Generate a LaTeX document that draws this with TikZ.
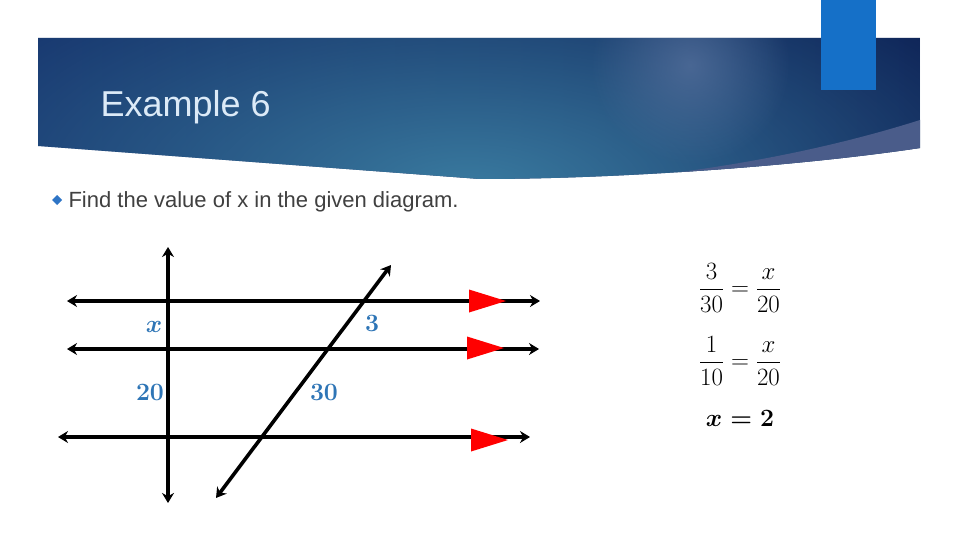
\documentclass[tikz,border=0pt]{standalone}
\usepackage{amsmath}
\usepackage[no-math]{fontspec}
\setmainfont{Liberation Sans}
\usepackage{tikz}
\usetikzlibrary{arrows.meta}
\usetikzlibrary{fadings}
\usepackage{xcolor}
\definecolor{navyleft}{HTML}{14306A}
\definecolor{navyright}{HTML}{0A1B50}
\definecolor{bannerlight}{HTML}{3A7BA0}
\definecolor{spotblue}{HTML}{5A74A0}
\definecolor{wedgeblue}{HTML}{4A5C8A}
\definecolor{tabblue}{HTML}{1570C8}
\definecolor{titletext}{HTML}{DCEAF7}
\definecolor{bodygray}{HTML}{404040}
\definecolor{bulletblue}{HTML}{2E75C6}
\definecolor{labelblue}{HTML}{2E75B6}
\tikzfading[name=glow, inner color=transparent!0, outer color=transparent!100]

\begin{document}
\begin{tikzpicture}[x=1pt,y=-1pt,
  ln/.style={line width=3.6pt,{Stealth[length=10pt,width=12pt]}-{Stealth[length=10pt,width=12pt]}},
  lbl/.style={text=labelblue,font=\fontsize{24}{28}\selectfont\boldmath},
  eqn/.style={font=\fontsize{24}{28}\selectfont}]
\useasboundingbox [fill=white] (0,0) rectangle (960,540);

% title banner
\begin{scope}
\clip (38,38) -- (920,38) -- (920,148) .. controls (800,166) and (620,179) .. (480,179)
      -- (38,146) -- cycle;
\shade [left color=navyleft, right color=navyright] (38,0) rectangle (920,200);
\fill [bannerlight, path fading=glow] (470,190) ellipse (640 and 280);
\fill [spotblue, opacity=0.7, path fading=glow] (690,65) circle (100);
\fill [wedgeblue] (920,120) .. controls (800,158) and (660,180) .. (520,186) -- (960,200) -- (960,120) -- cycle;
\end{scope}
\fill [tabblue] (821,0) rectangle (876,90);
\node [anchor=base west, text=titletext, font=\fontsize{36}{40}\selectfont] (title) at (97,117) {Example 6};

\fill [bulletblue] (57,195) -- (62,200) -- (57,205) -- (52,200) -- cycle;
\node [anchor=base west, text=bodygray, font=\fontsize{22}{26}\selectfont] (task) at (65,207) {Find the value of x in the given diagram.};

% parallel lines and transversals
\coordinate (top1) at (67,301);  \coordinate (top2) at (540,301);
\coordinate (mid1) at (67,349);  \coordinate (mid2) at (539,349);
\coordinate (bot1) at (58,437);  \coordinate (bot2) at (530,437);
\coordinate (ver1) at (168,247); \coordinate (ver2) at (168,503);
\coordinate (sl1) at (391,265);  \coordinate (sl2) at (216,498);
\draw [ln] (top1) -- (top2);
\draw [ln] (mid1) -- (mid2);
\draw [ln] (bot1) -- (bot2);
\draw [ln] (ver1) -- (ver2);
\draw [ln] (sl1) -- (sl2);
\foreach \xa/\ya in {469/301, 467/348, 471/440}
  \fill [red] (\xa,\ya-11.5) -- (\xa+37,\ya) -- (\xa,\ya+11.5) -- cycle;

\node [lbl] (labx) at (154,327) {$x$};
\node [lbl] (lab3) at (372,323) {$3$};
\node [lbl] (lab20) at (150,392) {$20$};
\node [lbl] (lab30) at (324,392) {$30$};

% working
\node [eqn] (eq1) at (740,288) {$\dfrac{3}{30}=\dfrac{x}{20}$};
\node [eqn] (eq2) at (740,361) {$\dfrac{1}{10}=\dfrac{x}{20}$};
\node [eqn, font=\fontsize{25}{28}\selectfont\boldmath] (eq3) at (740,418) {$x=2$};

\end{tikzpicture}
\end{document}
